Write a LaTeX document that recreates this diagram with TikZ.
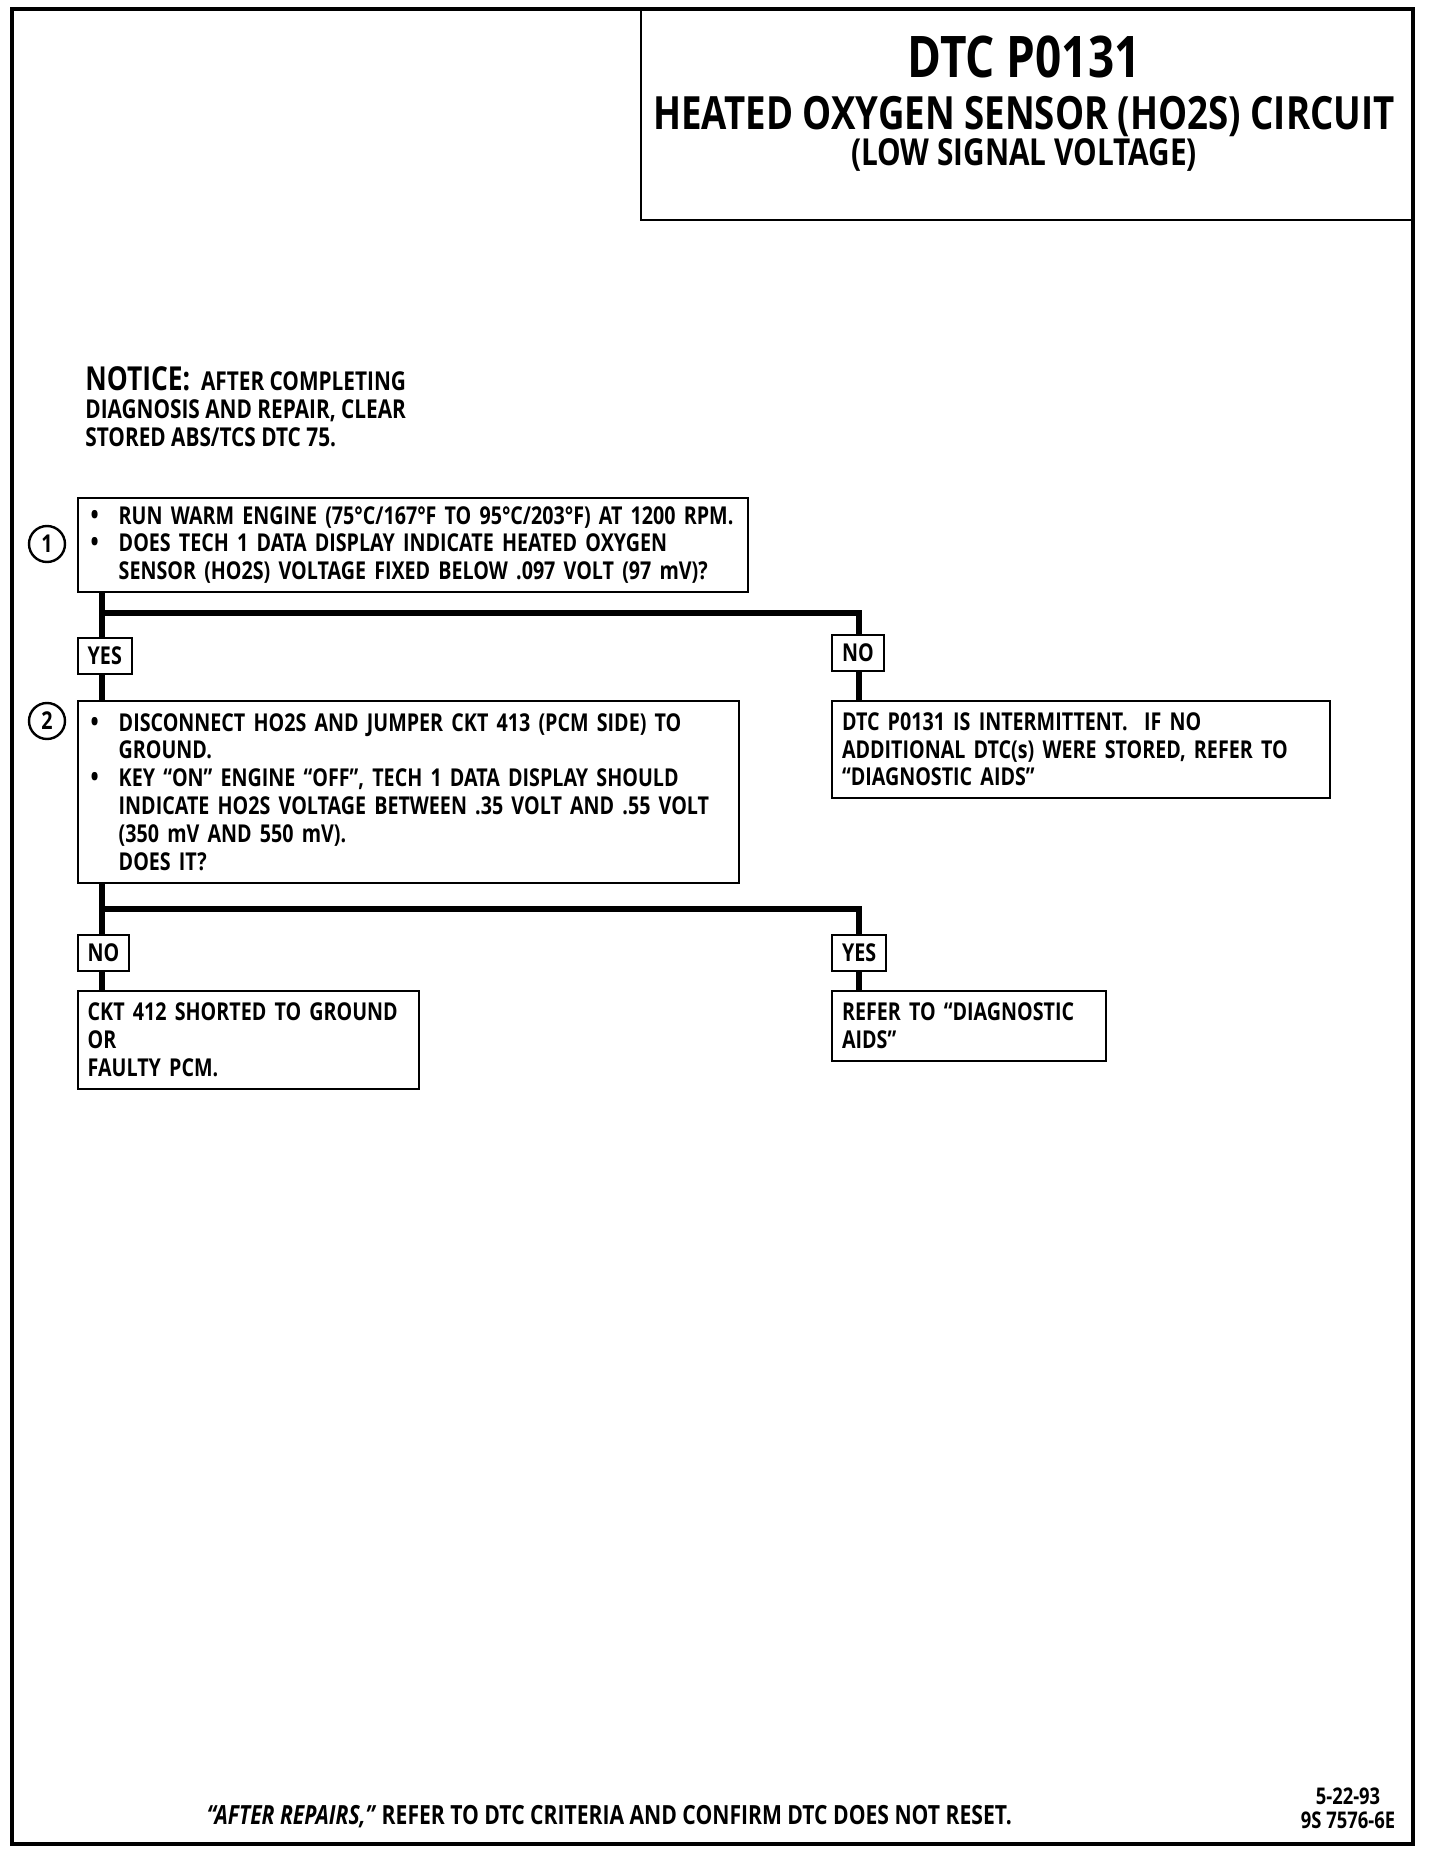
\documentclass[tikz,border=0pt]{standalone}
\usepackage{fontspec}
\setmainfont{Open Sans}[FakeStretch=0.8]
\usetikzlibrary{positioning}

\newcommand{\bitem}{\makebox[14pt][l]{\fontsize{13.5}{13.9}\selectfont\textbullet}}
\newcommand{\bcont}{\hspace*{14pt}}

\begin{document}
\begin{tikzpicture}[
    x=0.5pt, y=-0.5pt,
    every node/.style={font=\bfseries},
    box/.style={draw, line width=1pt, anchor=north west, align=left, inner xsep=6.5pt, inner ysep=1pt, font=\bfseries\fontsize{12.3}{13.9}\selectfont},
    result/.style={box, inner xsep=5pt},
    answer/.style={draw, line width=1pt, anchor=north west, inner xsep=5pt, inner ysep=0pt, minimum height=18pt, font=\bfseries\fontsize{12.3}{13.9}\selectfont},
    stepnum/.style={circle, draw, line width=1.2pt, minimum size=18pt, inner sep=0pt, font=\bfseries\fontsize{12.3}{13.9}\selectfont},
    link/.style={line width=3pt}
]
\useasboundingbox (0,0) rectangle (1440,1850);

% Title block
\node[draw, line width=1pt, anchor=north west, minimum width=386.5pt, minimum height=105.25pt] (titlebox) at (640,9) {};
\node[inner sep=0pt, font=\bfseries\fontsize{28.7}{30}\selectfont] (title) at (1024,57) {DTC P0131};
\node[inner sep=0pt, font=\bfseries\fontsize{22.9}{24}\selectfont] (subtitle) at (1024,117) {HEATED OXYGEN SENSOR (HO2S) CIRCUIT};
\node[inner sep=0pt, font=\bfseries\fontsize{18.6}{20}\selectfont] (cond) at (1024,155) {(LOW SIGNAL VOLTAGE)};

% Notice
\node[anchor=north west, align=left, inner sep=0pt, font=\bfseries\fontsize{13}{14}\selectfont] (notice) at (85,366)
    {{\fontsize{16.5}{14}\selectfont NOTICE:}\ \ AFTER COMPLETING\\ DIAGNOSIS AND REPAIR, CLEAR\\ STORED ABS/TCS DTC 75.};

% Steps
\node[box, text width=322pt, minimum height=47pt] (q1) at (76.7,497)
    {\bitem RUN WARM ENGINE (75°C/167°F TO 95°C/203°F) AT 1200 RPM.\\
     \bitem DOES TECH 1 DATA DISPLAY INDICATE HEATED OXYGEN\\
     \bcont SENSOR (HO2S) VOLTAGE FIXED BELOW .097 VOLT (97 mV)?};
\node[stepnum] (c1) at (47,544) {1};

\node[box, text width=317.5pt, minimum height=90.85pt] (q2) at (76.7,700)
    {\bitem DISCONNECT HO2S AND JUMPER CKT 413 (PCM SIDE) TO\\
     \bcont GROUND.\\
     \bitem KEY “ON” ENGINE “OFF”, TECH 1 DATA DISPLAY SHOULD\\
     \bcont INDICATE HO2S VOLTAGE BETWEEN .35 VOLT AND .55 VOLT\\
     \bcont (350 mV AND 550 mV).\\
     \bcont DOES IT?};
\node[stepnum] (c2) at (47,721) {2};

% Answers
\node[answer] (yes1) at (76.7,637) {YES};
\node[answer] (no1) at (831,634) {NO};
\node[answer] (no2) at (76.7,934) {NO};
\node[answer] (yes2) at (831,934) {YES};

% Results
\node[result, text width=239pt, minimum height=48.35pt] (r1) at (831,700)
    {DTC P0131 IS INTERMITTENT.\ \ IF NO\\ ADDITIONAL DTC(s) WERE STORED, REFER TO\\ “DIAGNOSTIC AIDS”};
\node[result, text width=160.7pt, minimum height=49pt] (r2) at (76.7,990)
    {CKT 412 SHORTED TO GROUND\\ OR\\ FAULTY PCM.};
\node[result, text width=127pt, minimum height=35pt] (r3) at (831,990)
    {REFER TO “DIAGNOSTIC\\ AIDS”};

% Connectors
\coordinate (spine) at (101.5,0);
\coordinate (rail) at (859,0);
\coordinate (j1) at (101.5,613);
\coordinate (j2) at (101.5,909);
\draw[link] (q1.south -| spine) -- (yes1.north -| spine);
\draw[link] (yes1.south -| spine) -- (q2.north -| spine);
\draw[link] (j1) -| (rail |- no1.north);
\draw[link] (no1.south -| rail) -- (r1.north -| rail);
\draw[link] (q2.south -| spine) -- (no2.north -| spine);
\draw[link] (no2.south -| spine) -- (r2.north -| spine);
\draw[link] (j2) -| (rail |- yes2.north);
\draw[link] (yes2.south -| rail) -- (r3.north -| rail);

% Footer
\node[anchor=west, inner sep=0pt, font=\bfseries\fontsize{13.2}{14}\selectfont] (footer) at (206.5,1817)
    {\textit{“AFTER REPAIRS,”} REFER TO DTC CRITERIA AND CONFIRM DTC DOES NOT RESET.};
\node[align=center, inner sep=0pt, font=\bfseries\fontsize{11.5}{11.8}\selectfont] (stamp) at (1348,1808)
    {5-22-93\\ 9S 7576-6E};

% Page frame
\draw[line width=2pt] (12,9) rectangle (1413,1844);
\end{tikzpicture}
\end{document}
